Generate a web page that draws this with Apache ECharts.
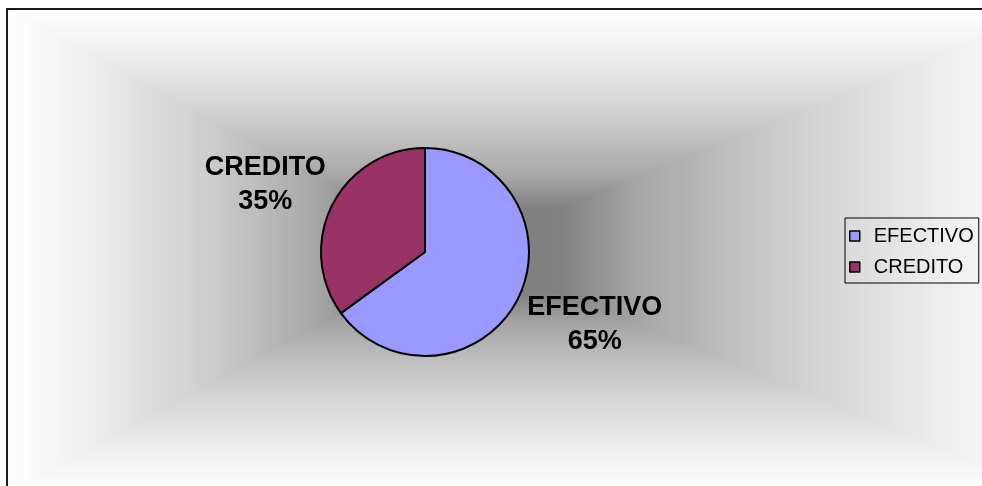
<!DOCTYPE html>
<html><head><meta charset="utf-8">
<script src="https://cdn.jsdelivr.net/npm/echarts@6/dist/echarts.min.js"></script>
<style>html,body{margin:0;padding:0;background:#fff;overflow:hidden}#c{width:982px;height:486px}</style>
</head><body><div id="c"></div>
<script>
const categories = ['EFECTIVO', 'CREDITO'];
const values = [65, 35];
const sliceColors = ['#9999FF', '#993366'];
// label nudges per slice (style only)
const labelShift = [[12, -8], [-2, 13]];

// rectangular "from center" background gradient (style only)
const bgCx = 455, bgCy = 251, bgL = 448, bgR = 600, bgT = 242, bgB = 242;
const shadeStops = [[0, 124], [0.18, 129], [0.3, 164], [0.45, 190], [0.62, 214], [0.8, 236], [1, 255]];
function shade(t) {
  for (let i = 1; i < shadeStops.length; i++) {
    const a = shadeStops[i - 1], b = shadeStops[i];
    if (t <= b[0]) return a[1] + (b[1] - a[1]) * (t - a[0]) / (b[0] - a[0]);
  }
  return 255;
}
const graphics = [];
const N = 180;
for (let i = N; i >= 1; i--) {
  const t = i / N;
  const g = Math.round(shade(t));
  graphics.push({
    type: 'rect', silent: true, z: 0,
    shape: { x: bgCx - t * bgL, y: bgCy - t * bgT, width: t * (bgL + bgR), height: t * (bgT + bgB) },
    style: { fill: 'rgb(' + g + ',' + g + ',' + g + ')' }
  });
}
graphics.push({
  type: 'polyline', silent: true, z: 1,
  shape: { points: [[7, 490], [7, 9], [982, 9]] },
  style: { fill: null, stroke: '#1a1a1a', lineWidth: 2 }
});

const pieData = categories.map((n, i) => ({ name: n, value: values[i], itemStyle: { color: sliceColors[i] } }));
const labelData = categories.map((n, i) => ({ name: n, value: values[i] }));

const chart = echarts.init(document.getElementById('c'), null, { renderer: 'canvas' });
chart.setOption({
  animation: false,
  backgroundColor: '#fff',
  graphic: graphics,
  legend: {
    orient: 'vertical',
    left: 845, top: 218,
    padding: [8, 5, 6, 4],
    itemGap: 11,
    itemWidth: 10, itemHeight: 10,
    icon: 'rect',
    borderColor: '#000', borderWidth: 1,
    itemStyle: { borderColor: '#000', borderWidth: 1.5 },
    textStyle: { fontFamily: 'Liberation Sans', fontSize: 20, color: '#000', padding: [0, 0, 0, 9], lineHeight: 20 },
    data: categories,
    selectedMode: false
  },
  series: [
    {
      type: 'pie', center: [425, 252], radius: 104, startAngle: 90, clockwise: true,
      silent: true,
      data: pieData,
      itemStyle: { borderColor: '#000', borderWidth: 2 },
      label: { show: false }, labelLine: { show: false },
      emphasis: { disabled: true }
    },
    {
      type: 'pie', center: [425, 252], radius: [160, 188], startAngle: 90, clockwise: true,
      silent: true, legendHoverLink: false,
      data: labelData,
      itemStyle: { color: 'rgba(0,0,0,0)', borderWidth: 0 },
      label: {
        show: true, position: 'inside', formatter: '{b}\n{d}%',
        fontFamily: 'Liberation Sans', fontSize: 27, fontWeight: 'bold', color: '#000', lineHeight: 34
      },
      labelLayout: function (p) { return { dx: labelShift[p.dataIndex][0], dy: labelShift[p.dataIndex][1] }; },
      labelLine: { show: false },
      emphasis: { disabled: true }
    }
  ]
});
</script>
</body></html>
